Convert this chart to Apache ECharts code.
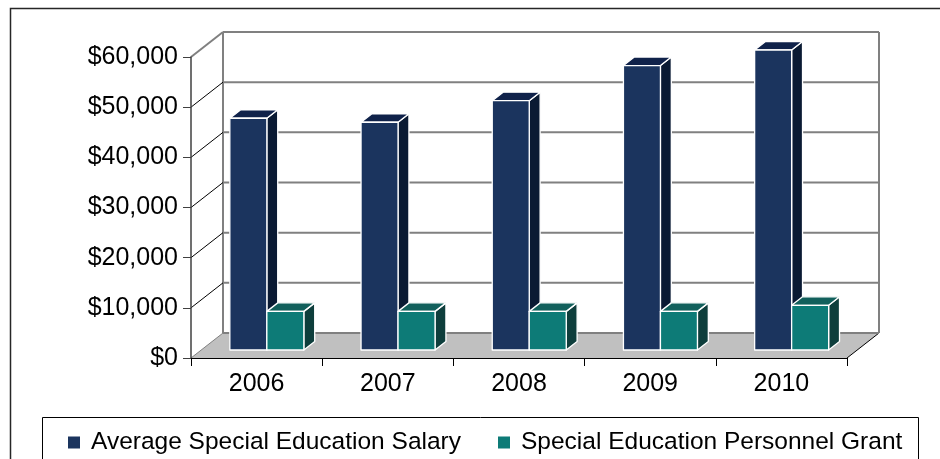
<!DOCTYPE html>
<html>
<head>
<meta charset="utf-8">
<script src="https://cdn.jsdelivr.net/npm/echarts@6/dist/echarts.min.js"></script>
<style>
html,body{margin:0;padding:0;background:#fff}
#main{width:940px;height:459px}
</style>
</head>
<body>
<div id="main"></div>
<script>
var years = ['2006', '2007', '2008', '2009', '2010'];
var salary = [46200, 45400, 49700, 56700, 59800];
var grant = [7700, 7700, 7700, 7700, 8900];
var yTicks = [0, 10000, 20000, 30000, 40000, 50000, 60000];
var seriesNames = ['Average Special Education Salary', 'Special Education Personnel Grant'];

(function(){
    var myChart = echarts.init(document.getElementById('main'));
    var FONT = "'Liberation Sans', Arial, sans-serif";
    var DEPTH = [32, -25];   // front axis -> back wall
    var PLANE = 0.32;        // depth where bar fronts sit
    var BAR_D = 0.34;        // depth of a bar
    var BAR_W = 0.282;       // bar width as share of a band

    function money(v) {
        return '$' + String(v).replace(/\B(?=(\d{3})+(?!\d))/g, ',');
    }

    // floor and back wall edges
    function renderWalls(params, api) {
        var cs = params.coordSys;
        var l = cs.x, r = cs.x + cs.width, b = cs.y + cs.height, t = cs.y;
        var dx = DEPTH[0], dy = DEPTH[1];
        return {
            type: 'group',
            children: [
                { type: 'polygon', shape: { points: [[l, b], [r, b], [r + dx, b + dy], [l + dx, b + dy]] },
                  style: { fill: '#c0c0c0', stroke: null } },
                { type: 'line', shape: { x1: l + dx, y1: b + dy, x2: l + dx, y2: t + dy },
                  style: { stroke: '#808080', lineWidth: 2 } },
                { type: 'line', shape: { x1: r + dx, y1: b + dy, x2: r + dx, y2: t + dy },
                  style: { stroke: '#808080', lineWidth: 2 } },
                { type: 'line', shape: { x1: r, y1: b, x2: r + dx, y2: b + dy },
                  style: { stroke: '#000', lineWidth: 1 } }
            ]
        };
    }

    // one gridline per tick: diagonal on the side wall + line on the back wall
    function renderGrid(params, api) {
        var cs = params.coordSys;
        var v = api.value(1);
        var y = api.coord([0, v])[1];
        var l = cs.x, r = cs.x + cs.width;
        var dx = DEPTH[0], dy = DEPTH[1];
        var isTop = v === yTicks[yTicks.length - 1];
        var isZero = v === 0;
        return {
            type: 'group',
            children: [
                { type: 'line', shape: { x1: l, y1: y, x2: l + dx, y2: y + dy },
                  style: { stroke: (isTop || isZero) ? '#808080' : '#000', lineWidth: isTop ? 2 : 1 } },
                { type: 'line', shape: { x1: l + dx, y1: y + dy, x2: r + dx, y2: y + dy },
                  style: { stroke: '#808080', lineWidth: 2 } }
            ]
        };
    }

    function barRenderer(slot, front, top, side) {
        return function (params, api) {
            var i = api.value(0), v = api.value(1);
            var band = api.size([1, 0])[0];
            var w = band * BAR_W;
            var c = api.coord([i, 0]);
            var p = api.coord([i, v]);
            var ox = DEPTH[0] * PLANE, oy = DEPTH[1] * PLANE;
            var ddx = DEPTH[0] * BAR_D, ddy = DEPTH[1] * BAR_D;
            var x0 = c[0] + ox + (slot === 0 ? -w : 0);
            var x1 = x0 + w;
            var yb = c[1] + oy, yt = p[1] + oy;
            var st = { stroke: '#fff', lineWidth: 1.3, lineJoin: 'round' };
            return {
                type: 'group',
                children: [
                    { type: 'polygon', shape: { points: [[x1, yt], [x1 + ddx, yt + ddy], [x1 + ddx, yb + ddy], [x1, yb]] },
                      style: Object.assign({ fill: side }, st) },
                    { type: 'polygon', shape: { points: [[x0, yt], [x1, yt], [x1 + ddx, yt + ddy], [x0 + ddx, yt + ddy]] },
                      style: Object.assign({ fill: top }, st) },
                    { type: 'rect', shape: { x: x0, y: yt, width: w, height: yb - yt },
                      style: Object.assign({ fill: front }, st) }
                ]
            };
        };
    }

    var option = {
        animation: false,
        color: ['#1b345e', '#0d7b77'],
        graphic: [
            { type: 'rect', shape: { x: 10.5, y: 8.5, width: 960, height: 480 },
              style: { fill: null, stroke: '#262626', lineWidth: 1.5 }, z: 100 },
            { type: 'rect', shape: { x: 42.5, y: 417.5, width: 876, height: 80 },
              style: { fill: null, stroke: '#000', lineWidth: 1 }, z: 100 }
        ],
        legend: {
            left: 63,
            top: 425,
            itemWidth: 12,
            itemHeight: 12,
            itemGap: 37,
            icon: 'rect',
            data: seriesNames,
            textStyle: {
                color: '#000',
                fontSize: 24.5,
                fontFamily: FONT,
                padding: [0, 0, 0, 6]
            }
        },
        grid: {
            left: 191,
            top: 57,
            width: 656,
            height: 301
        },
        xAxis: {
            type: 'category',
            data: years,
            z: 5,
            axisLine: { lineStyle: { color: '#000', width: 1 } },
            axisTick: { show: true, length: 8, alignWithLabel: false, lineStyle: { color: '#000' } },
            axisLabel: { color: '#000', fontSize: 25, fontFamily: FONT, margin: 14 },
            splitLine: { show: false }
        },
        yAxis: {
            type: 'value',
            min: 0,
            max: 60000,
            interval: 10000,
            z: 5,
            axisLine: { show: true, lineStyle: { color: '#404040', width: 1.5 } },
            axisTick: { show: true, length: 8, lineStyle: { color: '#404040' } },
            axisLabel: { color: '#000', fontSize: 25, fontFamily: FONT, margin: 13, formatter: money },
            splitLine: { show: false }
        },
        series: [
            {
                name: 'walls',
                type: 'custom',
                renderItem: renderWalls,
                clip: false,
                silent: true,
                z: 1,
                data: [[0, 0]]
            },
            {
                name: 'grid',
                type: 'custom',
                renderItem: renderGrid,
                clip: false,
                silent: true,
                z: 1,
                data: yTicks.map(function (v) { return [0, v]; })
            },
            {
                name: seriesNames[0],
                type: 'custom',
                renderItem: barRenderer(0, '#1b345e', '#10224a', '#0a1a33'),
                clip: false,
                z: 3,
                data: salary.map(function (v, i) { return [i, v]; })
            },
            {
                name: seriesNames[1],
                type: 'custom',
                renderItem: barRenderer(1, '#0d7b77', '#12605c', '#0e3e3c'),
                clip: false,
                z: 4,
                data: grant.map(function (v, i) { return [i, v]; })
            }
        ]
    };
    myChart.setOption(option);
    window.addEventListener('resize', function(){
        myChart.resize();
    });
})();
</script>
</body>
</html>
